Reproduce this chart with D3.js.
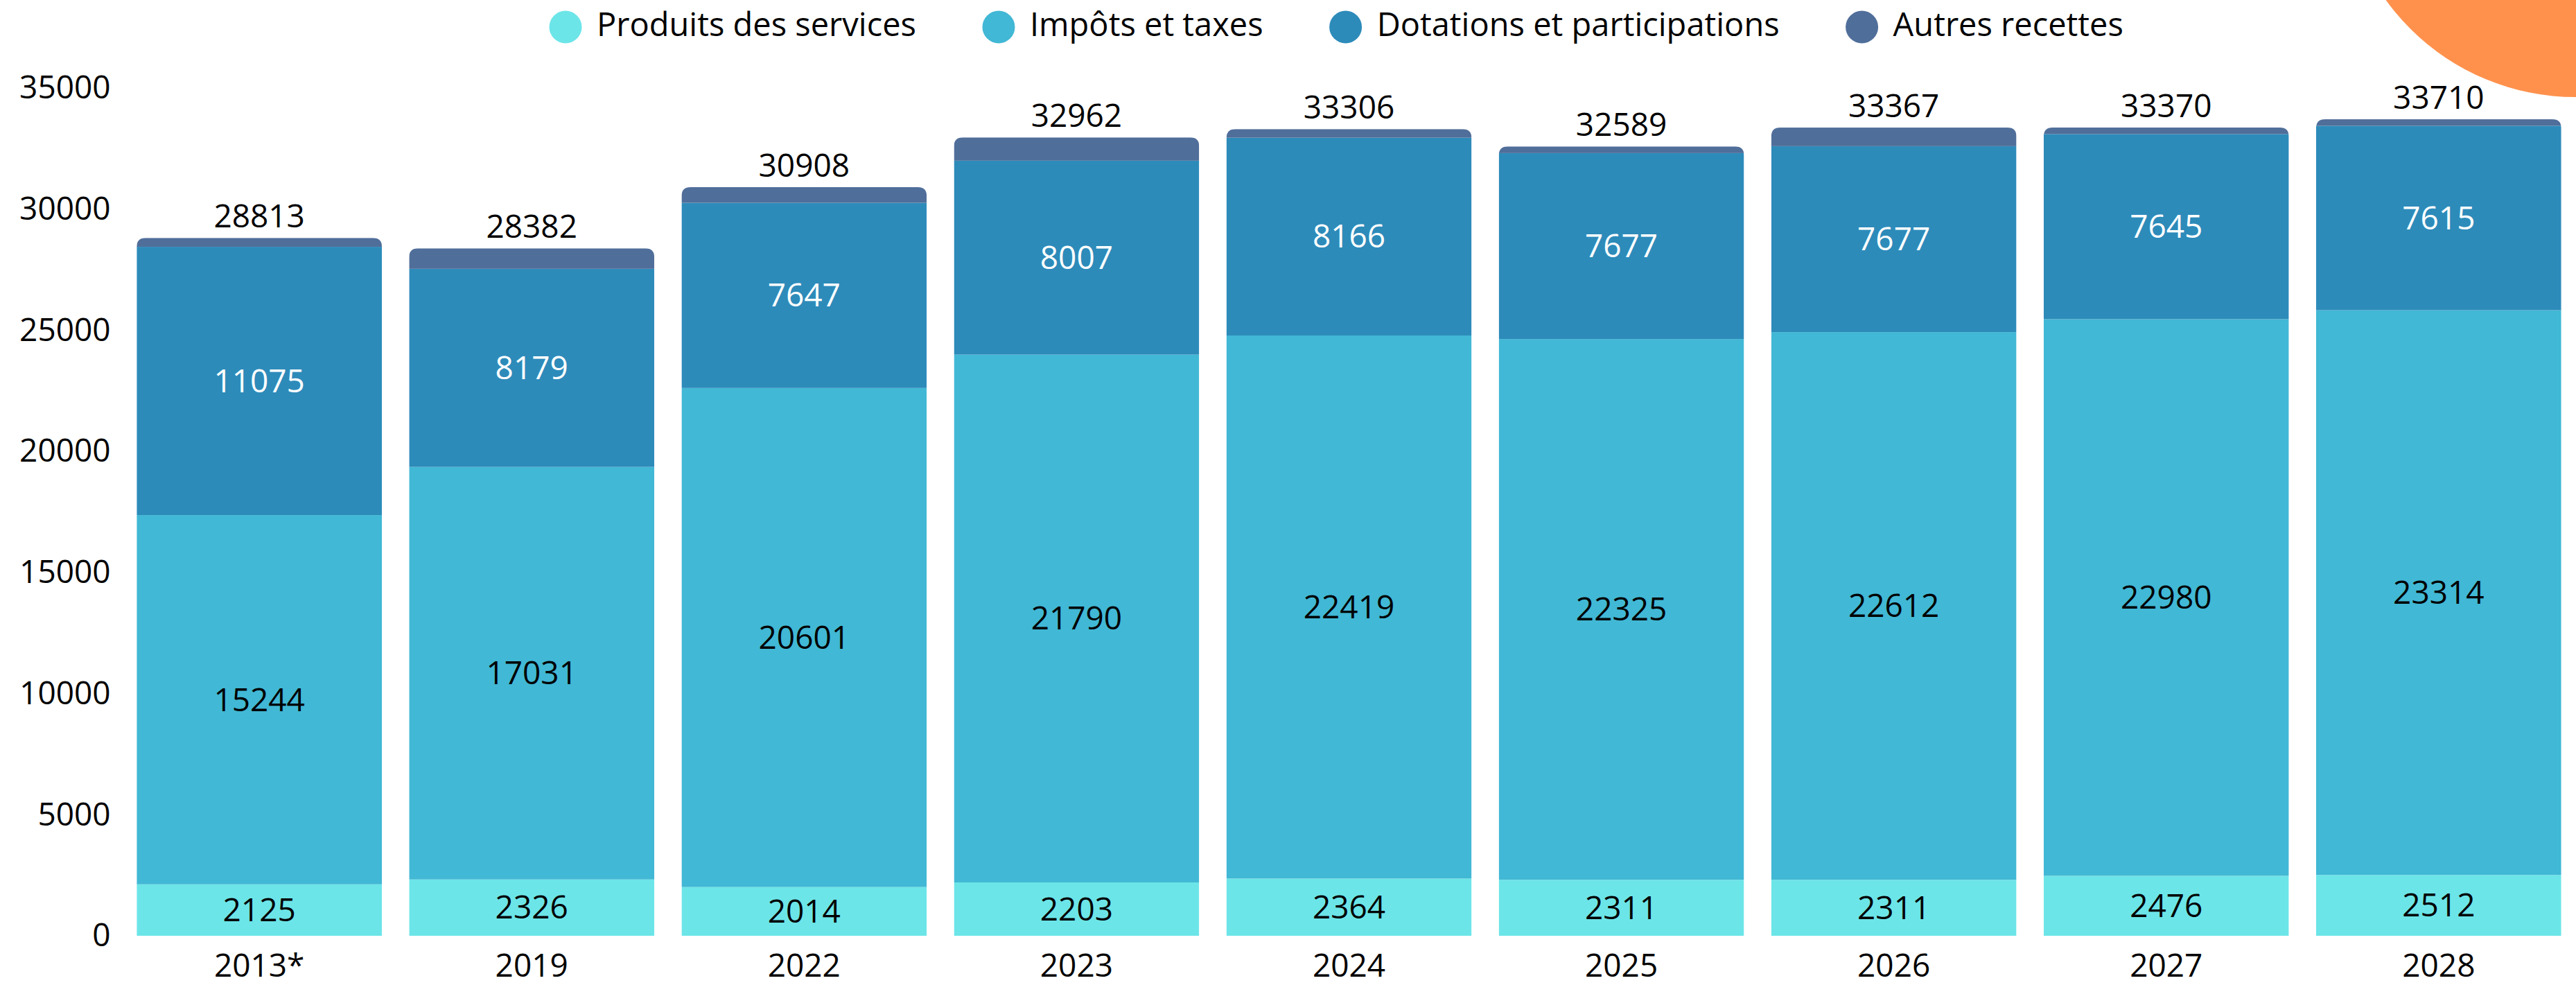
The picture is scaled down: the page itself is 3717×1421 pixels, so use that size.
<!DOCTYPE html>
<html>
<head>
<meta charset="utf-8">
<script src="https://cdn.jsdelivr.net/npm/d3@7"></script>
<style>
  body { margin: 0; background: #fff; }
  svg { display: block; font-family: 'Open Sans', sans-serif; }
</style>
</head>
<body>
<div id="chart"></div>
<script>
// values
const categories = ['2013*', '2019', '2022', '2023', '2024', '2025', '2026', '2027', '2028'];
const produits = [2125, 2326, 2014, 2203, 2364, 2311, 2311, 2476, 2512];
const impots = [15244, 17031, 20601, 21790, 22419, 22325, 22612, 22980, 23314];
const dotations = [11075, 8179, 7647, 8007, 8166, 7677, 7677, 7645, 7615];
const autres = [369, 846, 646, 962, 357, 276, 767, 269, 269];
const seriesNames = ['Produits des services', 'Impôts et taxes', 'Dotations et participations', 'Autres recettes'];
const yTicks = [0, 5000, 10000, 15000, 20000, 25000, 30000, 35000];

const colors = ['#6ce5e8', '#41b8d5', '#2d8bba', '#506e9a'];
const labelColors = ['#000', '#000', '#fff', null];

const width = 3717;
const height = 1421;
const fontSize = 46;

const svg = d3.select('#chart')
  .append('svg')
  .attr('width', width)
  .attr('height', height);

// decorative orange disc in the corner
svg.append('circle')
  .attr('cx', 3716)
  .attr('cy', -197)
  .attr('r', 337)
  .attr('fill', '#ff914d');

const rows = categories.map((c, i) => ({
  cat: c,
  s0: produits[i],
  s1: impots[i],
  s2: dotations[i],
  s3: autres[i],
}));
const keys = ['s0', 's1', 's2', 's3'];
const stacked = d3.stack().keys(keys)(rows);

const x = d3.scaleBand()
  .domain(categories)
  .range([177.6, 3715.4])
  .paddingInner(0.1)
  .paddingOuter(0.05);

const y = d3.scaleLinear()
  .domain([0, 35000])
  .range([1350, 127]);

// y axis
const yAxis = svg.append('g')
  .attr('transform', `translate(${x.range()[0]},0)`)
  .call(d3.axisLeft(y).tickValues(yTicks).tickSize(0).tickPadding(18).tickFormat(d3.format('d')));
yAxis.select('.domain').remove();
yAxis.selectAll('text')
  .attr('font-family', 'Open Sans')
  .attr('font-size', fontSize)
  .attr('fill', '#000');

// x axis
const xAxis = svg.append('g')
  .attr('transform', `translate(0,${y(0)})`)
  .call(d3.axisBottom(x).tickSize(0));
xAxis.select('.domain').remove();
xAxis.selectAll('text')
  .attr('y', 59)
  .attr('dy', 0)
  .attr('font-family', 'Open Sans')
  .attr('font-size', fontSize)
  .attr('fill', '#000');

// rounded-top clip for each bar
const radius = 13;
function topRounded(x0, y0, w, h, r) {
  return `M${x0},${y0 + h}V${y0 + r}Q${x0},${y0} ${x0 + r},${y0}` +
    `H${x0 + w - r}Q${x0 + w},${y0} ${x0 + w},${y0 + r}V${y0 + h}Z`;
}
const defs = svg.append('defs');
rows.forEach((d, i) => {
  const total = d.s0 + d.s1 + d.s2 + d.s3;
  defs.append('clipPath')
    .attr('id', `clip-${i}`)
    .append('path')
    .attr('d', topRounded(x(d.cat), y(total), x.bandwidth(), y(0) - y(total), radius));
});

const barsG = svg.append('g');
stacked.forEach((layer, li) => {
  barsG.append('g')
    .selectAll('rect')
    .data(layer)
    .join('rect')
    .attr('clip-path', (d, i) => `url(#clip-${i})`)
    .attr('x', d => x(d.data.cat))
    .attr('y', d => y(d[1]))
    .attr('width', x.bandwidth())
    .attr('height', d => y(d[0]) - y(d[1]))
    .attr('fill', colors[li]);
});

// segment labels
stacked.forEach((layer, li) => {
  if (!labelColors[li]) return;
  svg.append('g')
    .selectAll('text')
    .data(layer)
    .join('text')
    .attr('x', d => x(d.data.cat) + x.bandwidth() / 2)
    .attr('y', d => (y(d[0]) + y(d[1])) / 2)
    .attr('dy', '0.35em')
    .attr('text-anchor', 'middle')
    .attr('font-size', fontSize)
    .attr('fill', labelColors[li])
    .text(d => d[1] - d[0]);
});

// totals above bars
const topLayer = stacked[stacked.length - 1];
svg.append('g')
  .selectAll('text')
  .data(topLayer)
  .join('text')
  .attr('x', d => x(d.data.cat) + x.bandwidth() / 2)
  .attr('y', d => y(d[1]) - 15)
  .attr('text-anchor', 'middle')
  .attr('font-size', fontSize)
  .attr('fill', '#000')
  .text(d => d[1]);

// legend
const legend = svg.append('g').attr('transform', 'translate(816,0)');
const items = legend.selectAll('g')
  .data(seriesNames)
  .join('g');
items.append('circle')
  .attr('r', 23.5)
  .attr('cy', 39)
  .attr('fill', (d, i) => colors[i]);
items.append('text')
  .attr('x', 45)
  .attr('y', 52)
  .attr('font-size', 47)
  .attr('fill', '#000')
  .text(d => d);

let cursor = 0;
items.each(function () {
  const g = d3.select(this);
  g.attr('transform', `translate(${cursor},0)`);
  cursor += 45 + g.select('text').node().getComputedTextLength() + 119;
});
</script>
</body>
</html>
